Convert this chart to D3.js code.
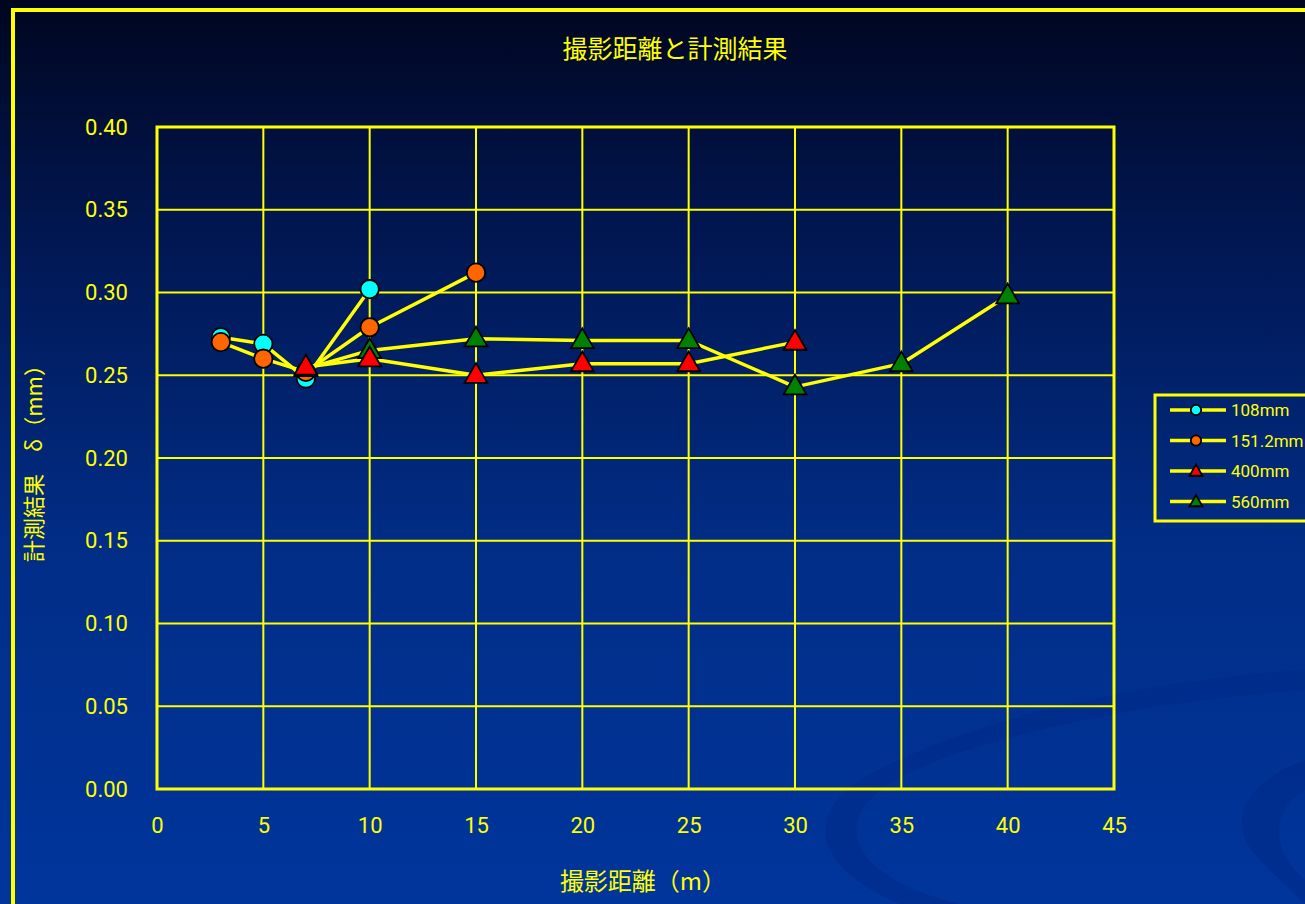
<!DOCTYPE html>
<html>
<head>
<meta charset="utf-8">
<script src="https://cdn.jsdelivr.net/npm/d3@7"></script>
<style>
  html, body { margin: 0; padding: 0; overflow: hidden; background: #000826; }
  svg { display: block; }
  text { font-family: "Noto Sans CJK JP", "Noto Sans", sans-serif; fill: #ffff00; }
</style>
</head>
<body>
<svg id="chart" width="1305" height="904"></svg>
<script>
// 撮影距離（m）と計測結果 δ（mm）
const seriesNames = ["108mm", "151.2mm", "400mm", "560mm"];
const dist108 = [3, 5, 7, 10];
const val108  = [0.273, 0.269, 0.248, 0.302];
const dist151 = [3, 5, 7, 10, 15];
const val151  = [0.270, 0.260, 0.252, 0.279, 0.312];
const dist400 = [7, 10, 15, 20, 25, 30];
const val400  = [0.255, 0.260, 0.250, 0.257, 0.257, 0.270];
const dist560 = [7, 10, 15, 20, 25, 30, 35, 40];
const val560  = [0.254, 0.265, 0.272, 0.271, 0.271, 0.243, 0.257, 0.298];
const xTicks = [0, 5, 10, 15, 20, 25, 30, 35, 40, 45];
const yTicks = [0.00, 0.05, 0.10, 0.15, 0.20, 0.25, 0.30, 0.35, 0.40];

const YEL = "#ffff00";
const svg = d3.select("#chart");
const W = 1305, H = 904;

// background gradient
const defs = svg.append("defs");
const bg = defs.append("linearGradient").attr("id", "bg").attr("x1", 0).attr("y1", 0).attr("x2", 0).attr("y2", 1);
bg.append("stop").attr("offset", "0%").attr("stop-color", "#00061f");
bg.append("stop").attr("offset", "25%").attr("stop-color", "#011650");
bg.append("stop").attr("offset", "60%").attr("stop-color", "#012d86");
bg.append("stop").attr("offset", "100%").attr("stop-color", "#00359c");
svg.append("rect").attr("width", W).attr("height", H).attr("fill", "url(#bg)");

// faint swirl in the lower right corner
const swirl = svg.append("g").attr("fill", "#002a88").attr("opacity", 0.55);
swirl.append("path").attr("d",
  "M 1305 690 C 1150 700, 950 740, 880 790 C 830 830, 860 880, 960 904 L 900 904 C 820 870, 800 820, 860 780 C 960 720, 1150 680, 1305 670 Z");
swirl.append("path").attr("d",
  "M 1305 760 C 1250 780, 1220 820, 1260 860 C 1280 880, 1295 895, 1305 904 L 1305 880 C 1270 850, 1270 810, 1305 790 Z");

// outer frame
svg.append("path")
  .attr("d", `M 13 ${H + 5} L 13 10 L ${W + 5} 10`)
  .attr("fill", "none").attr("stroke", YEL).attr("stroke-width", 4);

// plot area
const m = { left: 157, top: 127, right: 1114, bottom: 789 };
const x = d3.scaleLinear().domain([0, 45]).range([m.left, m.right]);
const y = d3.scaleLinear().domain([0, 0.40]).range([m.bottom, m.top]);

const grid = svg.append("g");
grid.selectAll("line.v").data(xTicks).join("line")
  .attr("x1", d => x(d)).attr("x2", d => x(d))
  .attr("y1", m.top).attr("y2", m.bottom)
  .attr("stroke", YEL).attr("stroke-width", 2);
grid.selectAll("line.h").data(yTicks).join("line")
  .attr("x1", m.left).attr("x2", m.right)
  .attr("y1", d => y(d)).attr("y2", d => y(d))
  .attr("stroke", YEL).attr("stroke-width", 2);
svg.append("rect")
  .attr("x", m.left).attr("y", m.top)
  .attr("width", m.right - m.left).attr("height", m.bottom - m.top)
  .attr("fill", "none").attr("stroke", YEL).attr("stroke-width", 3);

// axes (labels only; lines are the grid)
const xAxis = svg.append("g").attr("transform", `translate(0,${m.bottom})`)
  .call(d3.axisBottom(x).tickValues(xTicks).tickSize(0).tickPadding(28).tickFormat(d3.format("d")));
const yAxis = svg.append("g").attr("transform", `translate(${m.left},0)`)
  .call(d3.axisLeft(y).tickValues(yTicks).tickSize(0).tickPadding(29).tickFormat(d3.format(".2f")));
[xAxis, yAxis].forEach(a => {
  a.select(".domain").remove();
  a.selectAll("text").attr("fill", YEL).style("font-size", "22px")
    .style("font-family", "Roboto, 'Noto Sans', sans-serif");
});

// titles
svg.append("text").attr("x", 675).attr("y", 58).attr("text-anchor", "middle")
  .style("font-size", "25px").text("撮影距離と計測結果");
svg.append("text").attr("x", 643).attr("y", 890).attr("text-anchor", "middle")
  .style("font-size", "24px").text("撮影距離（m）");
svg.append("text").attr("transform", "translate(42,458) rotate(-90)").attr("text-anchor", "middle")
  .style("font-size", "22px").text("計測結果　δ（mm）");

// series
const series = [
  { name: seriesNames[0], xs: dist108, ys: val108, shape: "circle", fill: "#00ffff" },
  { name: seriesNames[1], xs: dist151, ys: val151, shape: "circle", fill: "#ff6600" },
  { name: seriesNames[2], xs: dist400, ys: val400, shape: "triangle", fill: "#ff0000" },
  { name: seriesNames[3], xs: dist560, ys: val560, shape: "triangle", fill: "#008000" }
];
const line = d3.line().x(d => x(d[0])).y(d => y(d[1]));
const pts = s => s.xs.map((v, i) => [v, s.ys[i]]);

svg.append("g").selectAll("path").data(series).join("path")
  .attr("d", s => line(pts(s)))
  .attr("fill", "none").attr("stroke", YEL).attr("stroke-width", 3.5)
  .attr("stroke-linejoin", "round");

const circleSym = d3.symbol().type(d3.symbolCircle);
const triSym = d3.symbol().type(d3.symbolTriangle);
function marker(sel, s, size) {
  const sym = s.shape === "circle" ? circleSym.size(size) : triSym.size(size * 0.85);
  return sel.attr("d", sym()).attr("fill", s.fill).attr("stroke", "#000").attr("stroke-width", 1.8);
}
// marker stacking order
const markerOrder = [0, 1, 3, 2];
markerOrder.forEach(i => {
  const s = series[i];
  svg.append("g").selectAll("path").data(pts(s)).join("path")
    .each(function () { marker(d3.select(this), s, 265); })
    .attr("transform", d => `translate(${x(d[0])},${y(d[1]) + (s.shape === "triangle" ? 1 : 0)})`);
});

// legend
const lg = svg.append("g").attr("transform", "translate(1155,395)");
lg.append("rect").attr("x", 0).attr("y", 0).attr("width", 170).attr("height", 126)
  .attr("fill", "none").attr("stroke", YEL).attr("stroke-width", 3);
series.forEach((s, i) => {
  const yy = 15 + i * 30.5;
  const g = lg.append("g").attr("transform", `translate(0,${yy})`);
  g.append("line").attr("x1", 15).attr("x2", 71).attr("y1", 0).attr("y2", 0)
    .attr("stroke", YEL).attr("stroke-width", 3.5);
  marker(g.append("path"), s, 85).attr("transform", `translate(41,${s.shape === "triangle" ? 1 : 0})`);
  g.append("text").attr("x", 76).attr("y", 6).style("font-size", "17px")
    .style("font-family", "Roboto, 'Noto Sans', sans-serif").text(s.name);
});
</script>
</body>
</html>
